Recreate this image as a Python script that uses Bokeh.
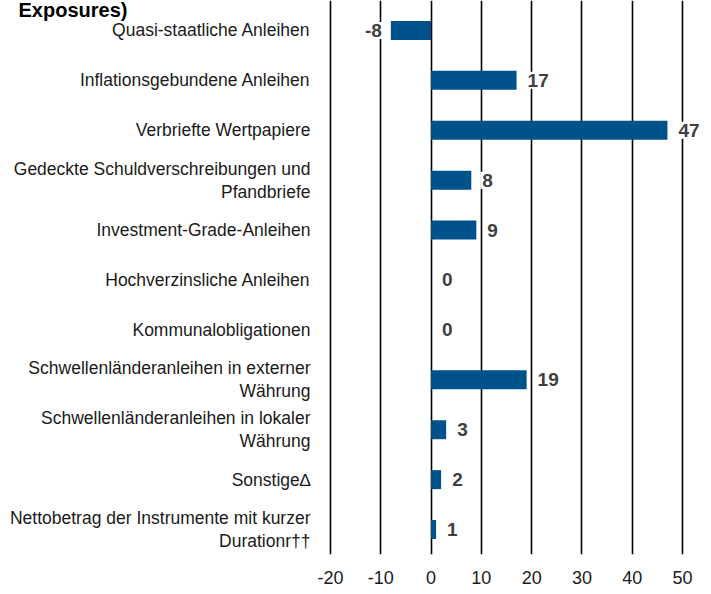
from bokeh.plotting import figure
from bokeh.models import Range1d, FixedTicker, ColumnDataSource, Label
from bokeh.core.properties import value
from bokeh.embed import file_html
from bokeh.resources import INLINE

# ---- data ----
categories = [
    "Quasi-staatliche Anleihen",
    "Inflationsgebundene Anleihen",
    "Verbriefte Wertpapiere",
    "Gedeckte Schuldverschreibungen und\nPfandbriefe",
    "Investment-Grade-Anleihen",
    "Hochverzinsliche Anleihen",
    "Kommunalobligationen",
    "Schwellenländeranleihen in externer\nWährung",
    "Schwellenländeranleihen in lokaler\nWährung",
    "Sonstige\u2206",
    "Nettobetrag der Instrumente mit kurzer\nDurationr\u2020\u2020",
]
values = [-8, 17, 47, 8, 9, 0, 0, 19, 3, 2, 1]
x_ticks = [-20, -10, 0, 10, 20, 30, 40, 50]
x_tick_labels = ["-20", "-10", "0", "10", "20", "30", "40", "50"]
title_text = "Exposures)"

# ---- style ----
BAR = "#00538a"
FONT = "Liberation Sans"

ypos = list(range(len(categories)))
src = ColumnDataSource(dict(
    y=ypos,
    v=values,
    txt=[str(v) for v in values],
    align=["right" if v < 0 else "left" for v in values],
    off=[-7 if v < 0 else 9 for v in values],
))
cat_src = ColumnDataSource(dict(
    y=ypos,
    x=[x_ticks[0]] * len(categories),
    label=categories,
))

# the frame covers the label column too (-20 sits at 330 px)
p = figure(width=705, height=590,
           x_range=Range1d(-85.62, 54.57), y_range=Range1d(10.5, -0.6),
           output_backend="svg", toolbar_location=None,
           min_border_left=0, min_border_right=0,
           min_border_top=0, min_border_bottom=36)
p.outline_line_color = None
p.background_fill_color = "white"
p.yaxis.visible = False

# grid
p.xgrid.ticker = FixedTicker(ticks=x_ticks)
p.xgrid.grid_line_color = "black"
p.xgrid.grid_line_width = 1.6
p.ygrid.grid_line_color = None

# x axis
p.xaxis.ticker = FixedTicker(ticks=x_ticks)
p.xaxis.major_label_overrides = {t: s for t, s in zip(x_ticks, x_tick_labels)}
p.xaxis.axis_line_color = None
p.xaxis.major_tick_line_color = None
p.xaxis.minor_tick_line_color = None
p.xaxis.major_tick_out = 0
p.xaxis.major_label_standoff = 16
p.xaxis.major_label_text_font = FONT
p.xaxis.major_label_text_font_size = "18px"
p.xaxis.major_label_text_color = "#1a1a1a"

# category labels
p.text(x="x", y="y", text="label", source=cat_src,
       x_offset=-20, text_align="right", text_baseline="middle",
       text_font=value(FONT), text_font_size="17.5px",
       text_line_height=1.15, text_color="#1a1a1a")

# bars
p.hbar(y="y", left=0, right="v", height=0.38, source=src,
       fill_color=BAR, line_color=None)

# value labels
p.text(x="v", y="y", text="txt", source=src,
       text_align="align", x_offset="off", text_baseline="middle",
       text_font=value(FONT),
       text_font_style="bold", text_font_size="19px", text_color="#404040",
       background_fill_color="white", padding=2)

# title line at the top
p.add_layout(Label(x=-20, y=-0.6, x_offset=-312, y_offset=-9, text=title_text,
                   text_font=FONT, text_font_style="bold",
                   text_font_size="20px", text_color="black",
                   text_baseline="alphabetic", text_align="left"))

open("out.html", "w").write(file_html(p, INLINE))
